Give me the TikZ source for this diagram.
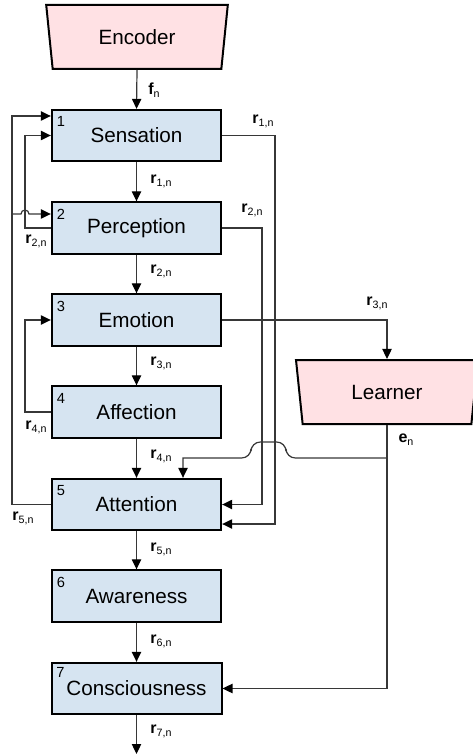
\documentclass[tikz,border=0pt]{standalone}
\usepackage{fontspec}
\setmainfont{Liberation Sans}
\usetikzlibrary{arrows.meta,shapes.geometric,calc}

\definecolor{stagefill}{RGB}{214,228,241}
\definecolor{unitfill}{RGB}{255,225,228}
\definecolor{wirecol}{RGB}{55,55,55}

\newcommand{\rlab}[1]{\textbf{r}\raisebox{-0.35ex}{\fontsize{8}{9}\selectfont #1}}

\tikzset{every picture/.style={line width=0.75pt}}
\tikzset{
	stage/.style={draw, line width=1.5pt, fill=stagefill, minimum width=127pt, minimum height=38.5pt, inner sep=0pt, font=\fontsize{15.5}{18}\selectfont},
	unit/.style={trapezium, trapezium stretches=true, trapezium left angle=101, trapezium right angle=101, draw, line width=1.5pt, fill=unitfill, minimum width=137pt, minimum height=48pt, inner sep=0pt, font=\fontsize{15.5}{18}\selectfont},
	wire/.style={draw=wirecol, line width=0.9pt, -{Triangle[length=7.5pt,width=7pt,color=black]}},
	idx/.style={font=\fontsize{11}{12}\selectfont, inner sep=0pt},
	lab/.style={font=\fontsize{12}{14}\selectfont, inner sep=0pt},
}

\begin{document}
\begin{tikzpicture}[x=0.75pt,y=0.75pt,yscale=-1,xscale=1]
	\useasboundingbox (0,0) rectangle (473,755);

	%Shape: Trapezoid
	\node[unit] (enc) at (137,37) {Encoder};
	\node[unit] (lrn) at (387,392) {Learner};

	%Shape: Rectangle
	\node[stage] (sens) at (136.5,135.5) {Sensation};
	\node[stage] (perc) at (136.5,228) {Perception};
	\node[stage] (emo) at (136.5,320) {Emotion};
	\node[stage] (aff) at (136.5,412) {Affection};
	\node[stage] (att) at (136.5,504.5) {Attention};
	\node[stage] (awa) at (136.5,596) {Awareness};
	\node[stage] (cons) at (136.5,688.5) {\phantom{C}Consciousness\phantom{C}};

	% Text Node
	\node[idx] (n1) at ($(sens.north west)+(10,13)$) {1};
	\node[idx] (n2) at ($(perc.north west)+(10,13)$) {2};
	\node[idx] (n3) at ($(emo.north west)+(10,13)$) {3};
	\node[idx] (n4) at ($(aff.north west)+(10,13)$) {4};
	\node[idx] (n5) at ($(att.north west)+(10,13)$) {5};
	\node[idx] (n6) at ($(awa.north west)+(10,13)$) {6};
	\node[idx] (n7) at ($(cons.north west)+(10,11)$) {7};

	%Straight Lines
	\draw[wire] (enc.south) -- (sens.north);
	\draw[wire] (sens.south) -- (perc.north);
	\draw[wire] (perc.south) -- (emo.north);
	\draw[wire] (emo.south) -- (aff.north);
	\draw[wire] (aff.south) -- (att.north);
	\draw[wire] (att.south) -- (awa.north);
	\draw[wire] (awa.south) -- (cons.north);
	\coordinate (out) at (136.5,754);
	\draw[wire] (cons.south) -- (out);

	%Feedback Lines (left)
	\coordinate (la) at (12,116);
	\draw[wire] (att.west) -| (la) -- (la -| sens.west);
	\coordinate (lb) at (12,214);
	\draw[wire] (lb) -- (21,214) arc[start angle=180, end angle=360, radius=4] -- (lb -| perc.west);
	\coordinate (lp) at (25,135.5);
	\draw[wire] (perc.west) -| (lp) -- (sens.west);
	\coordinate (lf) at (25,320);
	\draw[wire] (aff.west) -| (lf) -- (emo.west);

	%Feed Lines (right)
	\coordinate (rs) at (275,524);
	\draw[wire] (sens.east) -| (rs) -- (rs -| att.east);
	\coordinate (rp) at (262,504.5);
	\draw[wire] (perc.east) -| (rp) -- (att.east);
	\draw[wire] (emo.east) -| (lrn.north);

	%Learner Output
	\coordinate (eb) at (387,458);
	\coordinate (ea) at (183,458);
	\draw[wire] (lrn.south) |- (cons.east);
	\draw[wire] (eb) [rounded corners=7] -- (286,458) -- (286,442) -- (251,442) -- (251,458) [sharp corners] -- (ea) -- (ea |- att.north);

	% Text Node
	\node[lab] (fn) at (154,90) {\textbf{f}\raisebox{-0.35ex}{\fontsize{8}{9}\selectfont n}};
	\node[lab] (l1a) at (263,121) {\rlab{1,n}};
	\node[lab] (l1b) at (161,181) {\rlab{1,n}};
	\node[lab] (l2a) at (252,210) {\rlab{2,n}};
	\node[lab] (l2b) at (36,241) {\rlab{2,n}};
	\node[lab] (l2c) at (161,271) {\rlab{2,n}};
	\node[lab] (l3a) at (377,303) {\rlab{3,n}};
	\node[lab] (l3b) at (161,363) {\rlab{3,n}};
	\node[lab] (l4a) at (36,427) {\rlab{4,n}};
	\node[lab] (l4b) at (161,456) {\rlab{4,n}};
	\node[lab] (en) at (406,440) {\textbf{e}\raisebox{-0.35ex}{\fontsize{8}{9}\selectfont n}};
	\node[lab] (l5a) at (23,518) {\rlab{5,n}};
	\node[lab] (l5b) at (161,549) {\rlab{5,n}};
	\node[lab] (l6) at (161,641) {\rlab{6,n}};
	\node[lab] (l7) at (161,731) {\rlab{7,n}};

\end{tikzpicture}
\end{document}
